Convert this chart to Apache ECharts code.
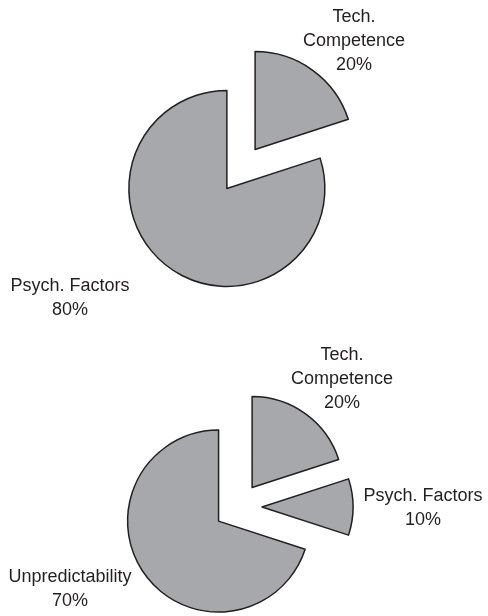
<!DOCTYPE html>
<html>
<head>
<meta charset="utf-8">
<script src="https://cdn.jsdelivr.net/npm/echarts@6/dist/echarts.min.js"></script>
<style>
html,body{margin:0;padding:0;background:#fff;}
#chart{width:488px;height:616px;}
</style>
</head>
<body>
<div id="chart"></div>
<script>
// Data
const topCategories = ['Tech.\nCompetence', 'Psych. Factors'];
const topValues = [20, 80];
const bottomCategories = ['Tech.\nCompetence', 'Psych. Factors', 'Unpredictability'];
const bottomValues = [20, 10, 70];

// Label anchor positions (layout only: centre of each label block)
const topLabelPos = [[354, 41], [70, 298]];
const bottomLabelPos = [[342, 379], [423, 508], [70, 589]];

const FILL = '#a7a8ab';
const EDGE = '#231f20';
const FONT = 'Liberation Sans, Arial, sans-serif';

function makeData(cats, vals) {
  return cats.map((c, i) => ({ name: c, value: vals[i], selected: true }));
}

function makeSeries(cats, vals, center, radius) {
  return {
    type: 'pie',
    center: center,
    radius: radius,
    startAngle: 90,
    clockwise: true,
    selectedMode: 'multiple',
    selectedOffset: 24,
    avoidLabelOverlap: false,
    animation: false,
    emphasis: { disabled: true },
    itemStyle: { color: FILL, borderColor: EDGE, borderWidth: 1.5 },
    label: { show: false },
    labelLine: { show: false },
    data: makeData(cats, vals)
  };
}

function makeLabels(cats, vals, pos) {
  const total = vals.reduce((a, b) => a + b, 0);
  return cats.map((c, i) => ({
    type: 'text',
    x: pos[i][0],
    y: pos[i][1],
    silent: true,
    style: {
      text: c + '\n' + Math.round(vals[i] / total * 100) + '%',
      fill: '#231f20',
      fontFamily: FONT,
      fontSize: 18,
      lineHeight: 24,
      align: 'center',
      textAlign: 'center',
      verticalAlign: 'middle',
      textVerticalAlign: 'middle'
    }
  }));
}

const chart = echarts.init(document.getElementById('chart'), null, { renderer: 'canvas' });
chart.setOption({
  animation: false,
  backgroundColor: '#ffffff',
  series: [
    makeSeries(topCategories, topValues, [241, 169], 98),
    makeSeries(bottomCategories, bottomValues, [238, 507], 91)
  ],
  graphic: {
    elements: makeLabels(topCategories, topValues, topLabelPos)
      .concat(makeLabels(bottomCategories, bottomValues, bottomLabelPos))
  }
});
</script>
</body>
</html>
